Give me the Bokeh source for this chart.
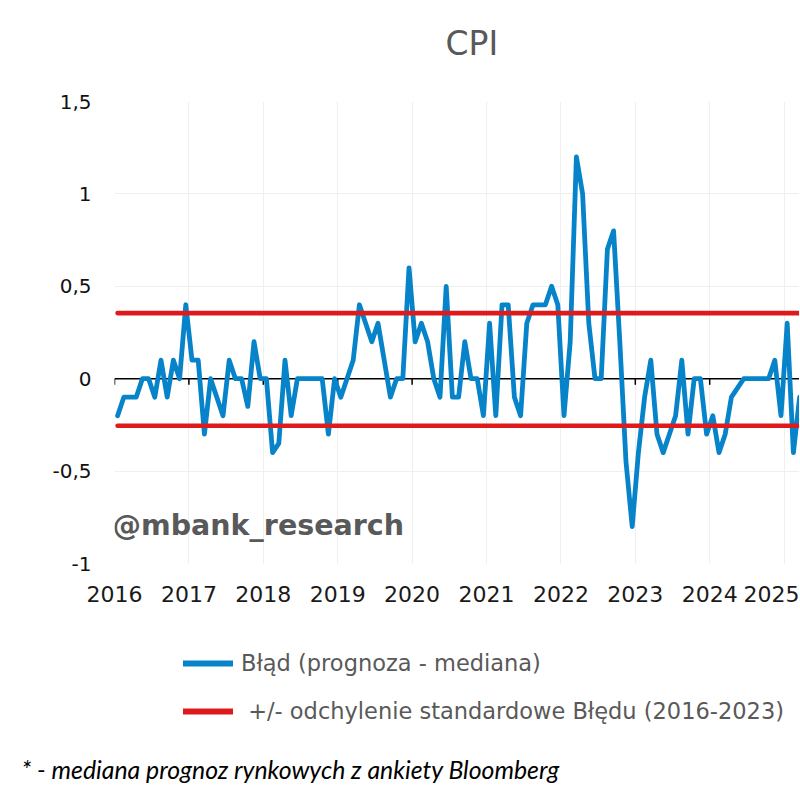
from bokeh.plotting import figure
from bokeh.layouts import column
from bokeh.models import (Range1d, FixedTicker, CustomJSTickFormatter, Span, Label,
                          Legend, LegendItem)
from bokeh.embed import file_html
from bokeh.resources import INLINE

# ---------------- data ----------------
TITLE = "CPI"
YEARS = [2016, 2017, 2018, 2019, 2020, 2021, 2022, 2023, 2024, 2025]

err_2016 = [-0.2, -0.1, -0.1, -0.1, 0.0, 0.0, -0.1, 0.1, -0.1, 0.1, 0.0, 0.4]
err_2017 = [0.1, 0.1, -0.3, 0.0, -0.1, -0.2, 0.1, 0.0, 0.0, -0.15, 0.2, 0.0]
err_2018 = [0.0, -0.4, -0.35, 0.1, -0.2, 0.0, 0.0, 0.0, 0.0, 0.0, -0.3, 0.0]
err_2019 = [-0.1, 0.0, 0.1, 0.4, 0.3, 0.2, 0.3, 0.1, -0.1, 0.0, 0.0, 0.6]
err_2020 = [0.2, 0.3, 0.2, 0.0, -0.1, 0.5, -0.1, -0.1, 0.2, 0.0, 0.0, -0.2]
err_2021 = [0.3, -0.2, 0.4, 0.4, -0.1, -0.2, 0.3, 0.4, 0.4, 0.4, 0.5, 0.4]
err_2022 = [-0.2, 0.2, 1.2, 1.0, 0.3, 0.0, 0.0, 0.7, 0.8, 0.2, -0.45, -0.8]
err_2023 = [-0.4, -0.1, 0.1, -0.3, -0.4, -0.3, -0.2, 0.1, -0.3, 0.0, 0.0, -0.3]
err_2024 = [-0.2, -0.4, -0.3, -0.1, -0.05, 0.0, 0.0, 0.0, 0.0, 0.0, 0.1, -0.2]
err_2025 = [0.3, -0.4, -0.1]

STD_UPPER = 0.355
STD_LOWER = -0.255

Y_TICKS = [-1, -0.5, 0, 0.5, 1, 1.5]
Y_LABELS = ["-1", "-0,5", "0", "0,5", "1", "1,5"]
X_TICKS = YEARS
X_LABELS = ["2016", "2017", "2018", "2019", "2020", "2021", "2022", "2023", "2024", "2025"]

SERIES_LABEL = "Błąd (prognoza - mediana)"
BAND_LABEL = " +/- odchylenie standardowe Błędu (2016-2023)"
FOOTNOTE = "* - mediana prognoz rynkowych z ankiety Bloomberg"
WATERMARK = "@mbank_research"

# ---------------- build series ----------------
yearly = [err_2016, err_2017, err_2018, err_2019, err_2020,
          err_2021, err_2022, err_2023, err_2024, err_2025]
xs, ys = [], []
for year, vals in zip(YEARS, yearly):
    for i, v in enumerate(vals):
        xs.append(year + (i + 0.5) / 12.0)
        ys.append(v)
upper = [STD_UPPER] * len(xs)
lower = [STD_LOWER] * len(xs)

BLUE = "#0783C9"
RED = "#DF1A1D"
GREY = "#595959"
FONT = "DejaVu Sans"

PX_PER_YEAR = 74.4
FRAME_W = 685
FRAME_H = 462
FIG_W = 799

LOOKUP = """
    for (let i = 0; i < tvals.length; i++) { if (Math.abs(tvals[i] - tick) < 1e-9) return tlabels[i]; }
    return '';
"""


def no_align(f):
    if "frame_align" in f.properties():
        f.frame_align = False
    return f


def blank(height):
    f = figure(width=FIG_W, height=height, x_range=Range1d(0, FIG_W), y_range=Range1d(0, height),
               output_backend="svg", toolbar_location=None, x_axis_location=None,
               y_axis_location=None, min_border=0, outline_line_color=None,
               background_fill_color="white", border_fill_color="white")
    f.grid.visible = False
    return no_align(f)


# ---------------- title strip ----------------
TOP_H = 86
ptop = blank(TOP_H)
ptop.add_layout(Label(x=445, y=TOP_H - 43, text=TITLE, text_font=FONT, text_font_size="33px",
                      text_color=GREY, text_baseline="middle", text_align="left"))

# ---------------- main chart ----------------
p = figure(frame_width=FRAME_W, frame_height=FRAME_H, title=None,
           x_range=Range1d(2016, 2016 + FRAME_W / PX_PER_YEAR),
           y_range=Range1d(-1, 1.5),
           output_backend="svg", toolbar_location=None,
           min_border_left=114, min_border_right=0, min_border_top=15,
           min_border_bottom=50, outline_line_color=None,
           background_fill_color="white", border_fill_color="white")
no_align(p)

p.xgrid.ticker = FixedTicker(ticks=X_TICKS)
p.ygrid.ticker = FixedTicker(ticks=Y_TICKS)
p.xgrid.grid_line_color = "#efefef"
p.ygrid.grid_line_color = "#efefef"

ya = p.yaxis[0]
ya.ticker = FixedTicker(ticks=Y_TICKS)
ya.formatter = CustomJSTickFormatter(args=dict(tvals=Y_TICKS, tlabels=Y_LABELS), code=LOOKUP)
ya.axis_line_color = None
ya.major_tick_line_color = None
ya.minor_tick_line_color = None
ya.major_tick_out = 0
ya.major_tick_in = 0
ya.major_label_standoff = 23
ya.major_label_text_font = FONT
ya.major_label_text_font_size = "20px"
ya.major_label_text_color = "#111111"

xa = p.xaxis[0]
xa.ticker = FixedTicker(ticks=X_TICKS)
xa.formatter = CustomJSTickFormatter(args=dict(tvals=X_TICKS, tlabels=X_LABELS), code=LOOKUP)
xa.axis_line_color = None
xa.major_tick_line_color = None
xa.minor_tick_line_color = None
xa.major_tick_out = 0
xa.major_tick_in = 0
xa.major_label_standoff = 22
xa.major_label_text_font = FONT
xa.major_label_text_font_size = "22px"
xa.major_label_text_color = "#1a1a1a"

p.add_layout(Span(location=0, dimension="width", line_color="black", line_width=1.5, level="underlay"))
p.segment(x0=X_TICKS, y0=0, x1=X_TICKS, y1=-0.033, line_color="black", line_width=1.5)

r_err = p.line(xs, ys, line_color=BLUE, line_width=4.8, line_join="round", line_cap="round")
r_up = p.line(xs, upper, line_color=RED, line_width=4.6, line_cap="round")
r_lo = p.line(xs, lower, line_color=RED, line_width=4.6, line_cap="round")

p.add_layout(Label(x=2016 - 2 / PX_PER_YEAR, y=-0.796, text=WATERMARK,
                   text_font=FONT, text_font_size="28.5px", text_font_style="bold",
                   text_color=GREY, text_baseline="alphabetic"))

# ---------------- legend + footnote strip ----------------
BOT_H = 180
pbot = blank(BOT_H)
# legend keys: same series, lying outside this strip's visible range
k_err = pbot.line(xs, ys, line_color=BLUE, line_width=6, line_cap="round")
k_std = pbot.line(xs, upper, line_color=RED, line_width=6, line_cap="round")
legend = Legend(items=[LegendItem(label=SERIES_LABEL, renderers=[k_err]),
                       LegendItem(label=BAND_LABEL, renderers=[k_std])],
                location=(183, 69), orientation="vertical",
                margin=0, padding=0, spacing=22,
                glyph_width=50, glyph_height=26, label_height=26,
                label_standoff=8,
                label_text_font=FONT, label_text_font_size="22.5px",
                label_text_color=GREY,
                border_line_color=None, background_fill_alpha=0)
pbot.add_layout(legend)
pbot.add_layout(Label(x=21, y=BOT_H - 156, text=FOOTNOTE,
                      text_font="Lato", text_font_size="24.8px", text_font_style="italic",
                      text_color="black", text_baseline="middle"))

layout = column(ptop, p, pbot, spacing=0)
open("out.html", "w").write(file_html(layout, INLINE))
